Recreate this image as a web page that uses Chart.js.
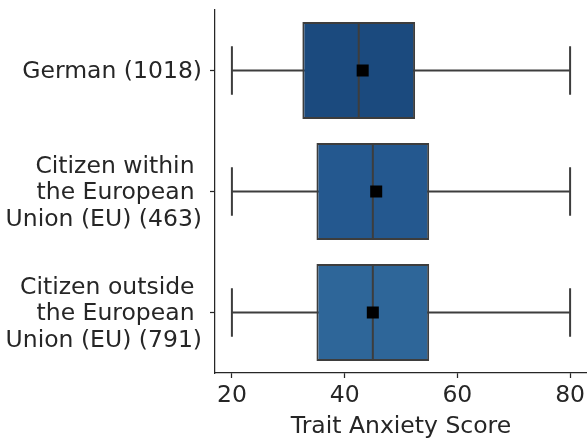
<!DOCTYPE html>
<html>
<head>
<meta charset="utf-8">
<script src="https://cdn.jsdelivr.net/npm/chart.js@4"></script>
<style>
  html, body { margin: 0; padding: 0; background: #fff; }
  #wrap { width: 587px; height: 441px; }
</style>
</head>
<body>
<div id="wrap"><canvas id="boxChart" width="587" height="441"></canvas></div>
<script>
// Box plot values
const categories = [
    'German (1018)',
    ['Citizen within ', 'the European ', 'Union (EU) (463)'],
    ['Citizen outside ', 'the European ', 'Union (EU) (791)']
];
const whiskerLow = [20, 20, 20];
const q1 = [32.5, 35, 35];
const median = [42.5, 45, 45];
const q3 = [52.5, 55, 55];
const whiskerHigh = [80, 80, 80];
const means = [43.2, 45.6, 45.0];
const xTicks = [20, 40, 60, 80];

const boxColors = ['#1b4a7e', '#24588f', '#2e6699'];
const edgeColor = '#3d3d3d';
const axisColor = '#262626';
const fontFamily = '"DejaVu Sans", sans-serif';

// whiskers go under the boxes, medians on top of them
const boxParts = {
    id: 'boxParts',
    beforeDatasetsDraw(chart) {
        const { ctx, scales: { x, y } } = chart;
        const band = y.getPixelForValue(1) - y.getPixelForValue(0);
        ctx.save();
        ctx.strokeStyle = edgeColor;
        ctx.lineWidth = 2;
        categories.forEach((c, i) => {
            const cy = y.getPixelForValue(i);
            const lo = x.getPixelForValue(whiskerLow[i]);
            const hi = x.getPixelForValue(whiskerHigh[i]);
            const cap = band * 0.2;
            ctx.beginPath();
            ctx.moveTo(lo, cy); ctx.lineTo(hi, cy);
            ctx.moveTo(lo, cy - cap); ctx.lineTo(lo, cy + cap);
            ctx.moveTo(hi, cy - cap); ctx.lineTo(hi, cy + cap);
            ctx.stroke();
        });
        ctx.restore();
    },
    afterDatasetDraw(chart, args) {
        if (args.index !== 1) return;
        const { ctx, scales: { x, y } } = chart;
        const band = y.getPixelForValue(1) - y.getPixelForValue(0);
        ctx.save();
        ctx.strokeStyle = edgeColor;
        ctx.lineWidth = 2;
        categories.forEach((c, i) => {
            const cy = y.getPixelForValue(i);
            const mx = x.getPixelForValue(median[i]);
            ctx.beginPath();
            ctx.moveTo(mx, cy - band * 0.4);
            ctx.lineTo(mx, cy + band * 0.4);
            ctx.stroke();
        });
        ctx.restore();
    }
};

new Chart(document.getElementById('boxChart'), {
    type: 'bar',
    data: {
        labels: categories,
        datasets: [
            {
                type: 'scatter',
                label: 'Mean',
                data: means.map((m, i) => ({ x: m, y: i })),
                pointStyle: 'rect',
                pointRadius: 8.5,
                pointHoverRadius: 8.5,
                pointBackgroundColor: '#000',
                pointBorderWidth: 0,
                order: 0
            },
            {
                label: 'IQR',
                data: q1.map((v, i) => [v, q3[i]]),
                backgroundColor: boxColors,
                borderColor: edgeColor,
                borderWidth: 2,
                borderSkipped: false,
                barPercentage: 0.8,
                categoryPercentage: 1,
                order: 1
            }
        ]
    },
    options: {
        indexAxis: 'y',
        responsive: false,
        animation: false,
        events: [],
        layout: { autoPadding: false, padding: { top: 10, right: 0, left: 0, bottom: 0 } },
        plugins: { legend: { display: false }, tooltip: { enabled: false } },
        scales: {
            x: {
                type: 'linear',
                min: 17,
                max: 83,
                afterBuildTicks: (scale) => { scale.ticks = xTicks.map(v => ({ value: v })); },
                afterFit: (scale) => {
                    scale.height = 68;
                    scale.paddingLeft = 0;
                    scale.paddingRight = 0;
                },
                grid: { drawOnChartArea: false, drawTicks: true, tickLength: 5, tickWidth: 1.25, color: axisColor },
                border: { display: true, color: axisColor, width: 1.25 },
                ticks: { color: axisColor, padding: 4, font: { family: fontFamily, size: 23.5 } },
                title: {
                    display: true,
                    text: 'Trait Anxiety Score',
                    color: axisColor,
                    padding: { top: 0, bottom: 0 },
                    font: { family: fontFamily, size: 23.5 }
                }
            },
            y: {
                type: 'category',
                offset: true,
                afterFit: (scale) => {
                    scale.width = 215;
                    scale.paddingTop = 0;
                    scale.paddingBottom = 0;
                },
                grid: { offset: false, drawOnChartArea: false, drawTicks: true, tickLength: 5, tickWidth: 1.25, color: axisColor },
                border: { display: true, color: axisColor, width: 1.25 },
                ticks: { color: axisColor, padding: 8, labelOffset: 1.5, font: { family: fontFamily, size: 23.5, lineHeight: 1.13 } }
            }
        }
    },
    plugins: [boxParts]
});
</script>
</body>
</html>
